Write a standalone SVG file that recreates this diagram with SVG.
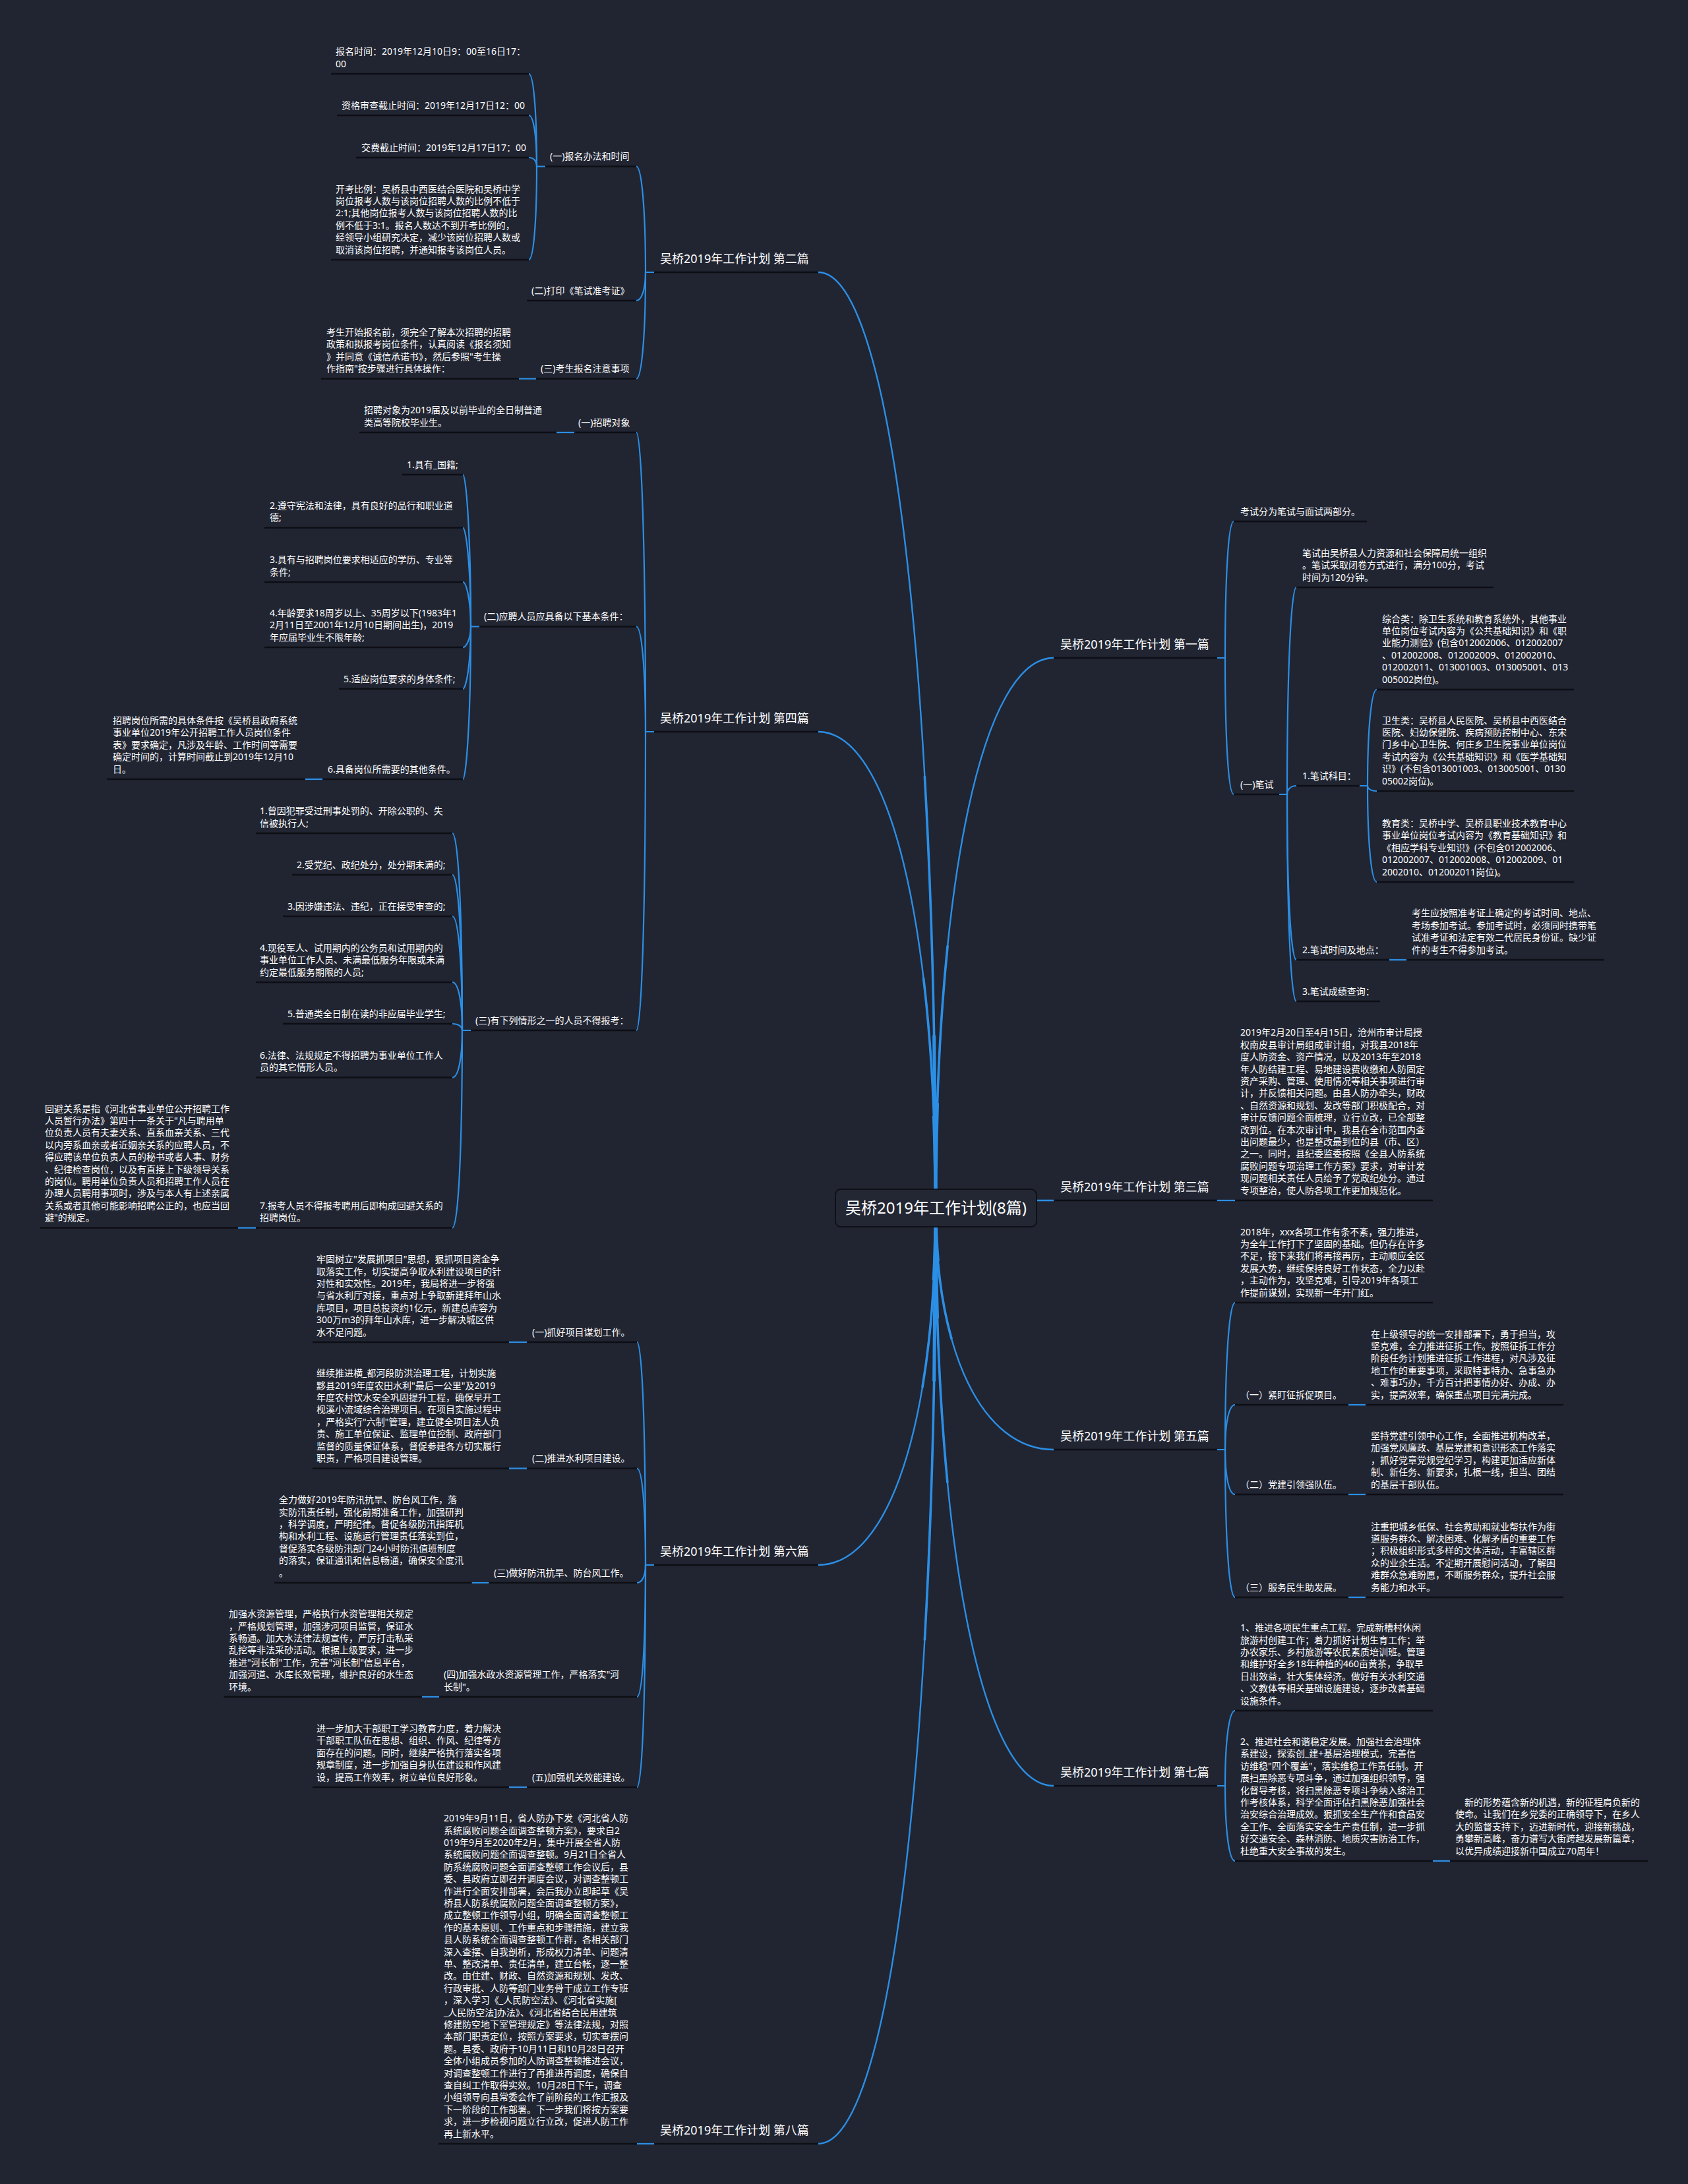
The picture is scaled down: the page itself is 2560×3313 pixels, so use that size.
<svg xmlns="http://www.w3.org/2000/svg" xmlns:xlink="http://www.w3.org/1999/xlink" width="2560" height="3313" viewBox="0 0 2560 3313">
<style>
.t{font-family:"Noto Sans","Noto Sans CJK SC",sans-serif;font-size:14px;fill:#ffffff}
.m{font-size:18px}
.r{font-size:24px}
.u{stroke:#0d0f14;stroke-width:2.5;fill:none}
.c{stroke:#2b8fe6;stroke-width:2.2;fill:none}
.k{stroke:#2b8fe6;stroke-width:2.4;fill:none}
.k2{stroke:#2b8fe6;stroke-width:3.6;fill:none;stroke-dasharray:45 1000}
.k3{stroke:#2b8fe6;stroke-width:5;fill:none;stroke-dasharray:18 1000}
</style>
<rect x="0" y="0" width="2560" height="3313" fill="#212532"/>
<g id="connectors">
 <g class="k">
  <path id="tL2" pathLength="100" d="M1419 1833C1419 981 1348 413 1241 413"/>
  <path id="tL4" pathLength="100" d="M1419 1833C1419 1399 1348 1110 1241 1110"/>
  <path id="tL6" pathLength="100" d="M1419 1833C1419 2158 1348 2374 1241 2374"/>
  <path id="tL8" pathLength="100" d="M1419 1833C1419 2684 1348 3252 1241 3252"/>
  <path id="tR1" pathLength="100" d="M1419 1833C1419 1332 1491 998 1598 998"/>
  <path id="tR5" pathLength="100" d="M1419 1833C1419 2053 1491 2199 1598 2199"/>
  <path id="tR7" pathLength="100" d="M1419 1833C1419 2359 1491 2709 1598 2709"/>
  <path d="M1560 1821H1598"/>
 </g>
 <g class="k2">
  <use href="#tL2"/><use href="#tL4"/><use href="#tL6"/><use href="#tL8"/><use href="#tR1"/><use href="#tR5"/><use href="#tR7"/>
 </g>
 <g class="k3">
  <use href="#tL2"/><use href="#tL4"/><use href="#tL6"/><use href="#tL8"/><use href="#tR1"/><use href="#tR5"/><use href="#tR7"/>
 </g>
 <g class="c">
  <path d="M1846 998H1858C1858 874 1863 791 1871 791"/>
  <path d="M1858 998C1858 1122 1863 1205 1871 1205"/>
  <path d="M1940 1205H1952C1952 1017 1958 891 1966 891"/>
  <path d="M1952 1205C1952 1197 1958 1192 1966 1192"/>
  <path d="M1952 1205C1952 1356 1958 1456 1966 1456"/>
  <path d="M1952 1205C1952 1393 1958 1519 1966 1519"/>
  <path d="M2062 1192H2074C2074 1104 2080 1046 2088 1046"/>
  <path d="M2074 1192C2074 1197 2080 1200 2088 1200"/>
  <path d="M2074 1192C2074 1280 2080 1338 2088 1338"/>
  <path d="M2107 1456H2133"/>
  <path d="M1846 1821H1873"/>
  <path d="M1846 2199H1858C1858 2065 1864 1976 1873 1976"/>
  <path d="M1858 2199C1858 2158 1864 2131 1873 2131"/>
  <path d="M1858 2199C1858 2240 1864 2267 1873 2267"/>
  <path d="M1858 2199C1858 2333 1864 2423 1873 2423"/>
  <path d="M2045 2131H2071"/>
  <path d="M2045 2267H2071"/>
  <path d="M2045 2423H2071"/>
  <path d="M1846 2709H1858C1858 2641 1864 2595 1873 2595"/>
  <path d="M1858 2709C1858 2777 1864 2823 1873 2823"/>
  <path d="M2173 2823H2199"/>
  <path d="M992 413H979C979 317 973 252.5 965 252.5"/>
  <path d="M979 413C979 439 973 456 965 456"/>
  <path d="M979 413C979 510 973 574.5 965 574.5"/>
  <path d="M827 252.5H814C814 168 809 112 802 112"/>
  <path d="M814 252.5C814 206 809 175 802 175"/>
  <path d="M814 252.5C814 244 809 239 802 239"/>
  <path d="M814 252.5C814 337 809 394 802 394"/>
  <path d="M813 574.5H787"/>
  <path d="M992 1110H979C979 838 973 656 965 656"/>
  <path d="M979 1110C979 1014 973 950.5 965 950.5"/>
  <path d="M979 1110C979 1382 973 1563 965 1563"/>
  <path d="M871 656H844"/>
  <path d="M727 950.5H714C714 812 707 720 702 720"/>
  <path d="M714 950.5C714 860 707 800.5 702 800.5"/>
  <path d="M714 950.5C714 910 707 883 702 883"/>
  <path d="M714 950.5C714 969 707 982 702 982"/>
  <path d="M714 950.5C714 1007 707 1045 702 1045"/>
  <path d="M714 950.5C714 1089 707 1182 702 1182"/>
  <path d="M489 1182H463"/>
  <path d="M714 1563H701C701 1384 695 1264 686 1264"/>
  <path d="M701 1563C701 1421 695 1327 686 1327"/>
  <path d="M701 1563C701 1459 695 1390 686 1390"/>
  <path d="M701 1563C701 1519 695 1490 686 1490"/>
  <path d="M701 1563C701 1557 695 1553 686 1553"/>
  <path d="M701 1563C701 1606 695 1634.5 686 1634.5"/>
  <path d="M701 1563C701 1743 695 1862.6 686 1862.6"/>
  <path d="M388 1862.6H361"/>
  <path d="M992 2374H979C979 2171 974 2036 966 2036"/>
  <path d="M979 2374C979 2286 974 2227.5 966 2227.5"/>
  <path d="M979 2374C979 2390 974 2401 966 2401"/>
  <path d="M979 2374C979 2494 974 2574 966 2574"/>
  <path d="M979 2374C979 2576 974 2711 966 2711"/>
  <path d="M799 2036H772"/>
  <path d="M799 2227.5H772"/>
  <path d="M741.5 2401H715.5"/>
  <path d="M666 2574H640"/>
  <path d="M799 2711H772"/>
  <path d="M992 3252H966"/>
 </g>
</g>

<g id="n-r1"><path class="u" d="M1598 998H1846"/><text class="t m" x="1608" y="984">吴桥2019年工作计划 第一篇</text></g>
<g id="n-r1a"><path class="u" d="M1871 791H2073"/><text class="t" x="1881" y="780.5">考试分为笔试与面试两部分。</text></g>
<g id="n-r1b"><path class="u" d="M1871 1205H1940"/><text class="t" x="1881" y="1194.5">(一)笔试</text></g>
<g id="n-r1b1"><path class="u" d="M1966 891H2265"/><text class="t" x="1975" y="843.7"><tspan>笔试由吴桥县人力资源和社会保障局统一组织</tspan><tspan x="1975" dy="18.4">。笔试采取闭卷方式进行，满分100分，考试</tspan><tspan x="1975" dy="18.4">时间为120分钟。</tspan></text></g>
<g id="n-r1b2"><path class="u" d="M1966 1192H2062"/><text class="t" x="1975" y="1181.5">1.笔试科目：</text></g>
<g id="n-r1b2a"><path class="u" d="M2088 1046H2387"/><text class="t" x="2096" y="943.5"><tspan>综合类：除卫生系统和教育系统外，其他事业</tspan><tspan x="2096" dy="18.4">单位岗位考试内容为《公共基础知识》和《职</tspan><tspan x="2096" dy="18.4">业能力测验》(包含012002006、012002007</tspan><tspan x="2096" dy="18.4">、012002008、012002009、012002010、</tspan><tspan x="2096" dy="18.4">012002011、013001003、013005001、013</tspan><tspan x="2096" dy="18.4">005002岗位)。</tspan></text></g>
<g id="n-r1b2b"><path class="u" d="M2088 1200H2387"/><text class="t" x="2096" y="1097.5"><tspan>卫生类：吴桥县人民医院、吴桥县中西医结合</tspan><tspan x="2096" dy="18.4">医院、妇幼保健院、疾病预防控制中心、东宋</tspan><tspan x="2096" dy="18.4">门乡中心卫生院、何庄乡卫生院事业单位岗位</tspan><tspan x="2096" dy="18.4">考试内容为《公共基础知识》和《医学基础知</tspan><tspan x="2096" dy="18.4">识》(不包含013001003、013005001、0130</tspan><tspan x="2096" dy="18.4">05002岗位)。</tspan></text></g>
<g id="n-r1b2c"><path class="u" d="M2088 1338H2387"/><text class="t" x="2096" y="1253.9"><tspan>教育类：吴桥中学、吴桥县职业技术教育中心</tspan><tspan x="2096" dy="18.4">事业单位岗位考试内容为《教育基础知识》和</tspan><tspan x="2096" dy="18.4">《相应学科专业知识》(不包含012002006、</tspan><tspan x="2096" dy="18.4">012002007、012002008、012002009、01</tspan><tspan x="2096" dy="18.4">2002010、012002011岗位)。</tspan></text></g>
<g id="n-r1b3"><path class="u" d="M1966 1456H2107"/><text class="t" x="1975" y="1445.5">2.笔试时间及地点：</text></g>
<g id="n-r1b3a"><path class="u" d="M2133 1456H2433"/><text class="t" x="2141" y="1390.3"><tspan>考生应按照准考证上确定的考试时间、地点、</tspan><tspan x="2141" dy="18.4">考场参加考试。参加考试时，必须同时携带笔</tspan><tspan x="2141" dy="18.4">试准考证和法定有效二代居民身份证。缺少证</tspan><tspan x="2141" dy="18.4">件的考生不得参加考试。</tspan></text></g>
<g id="n-r1b4"><path class="u" d="M1966 1519H2093"/><text class="t" x="1975" y="1508.5">3.笔试成绩查询：</text></g>

<g id="n-r3"><path class="u" d="M1598 1821H1846"/><text class="t m" x="1608" y="1807">吴桥2019年工作计划 第三篇</text></g>
<g id="n-r3a"><path class="u" d="M1873 1821H2173"/><text class="t" x="1881" y="1571.3"><tspan>2019年2月20日至4月15日，沧州市审计局授</tspan><tspan x="1881" dy="18.4">权南皮县审计局组成审计组，对我县2018年</tspan><tspan x="1881" dy="18.4">度人防资金、资产情况，以及2013年至2018</tspan><tspan x="1881" dy="18.4">年人防结建工程、易地建设费收缴和人防固定</tspan><tspan x="1881" dy="18.4">资产采购、管理、使用情况等相关事项进行审</tspan><tspan x="1881" dy="18.4">计，并反馈相关问题。由县人防办牵头，财政</tspan><tspan x="1881" dy="18.4">、自然资源和规划、发改等部门积极配合，对</tspan><tspan x="1881" dy="18.4">审计反馈问题全面梳理，立行立改，已全部整</tspan><tspan x="1881" dy="18.4">改到位。在本次审计中，我县在全市范围内查</tspan><tspan x="1881" dy="18.4">出问题最少，也是整改最到位的县（市、区）</tspan><tspan x="1881" dy="18.4">之一。同时，县纪委监委按照《全县人防系统</tspan><tspan x="1881" dy="18.4">腐败问题专项治理工作方案》要求，对审计发</tspan><tspan x="1881" dy="18.4">现问题相关责任人员给予了党政纪处分。通过</tspan><tspan x="1881" dy="18.4">专项整治，使人防各项工作更加规范化。</tspan></text></g>

<g id="n-r5"><path class="u" d="M1598 2199H1846"/><text class="t m" x="1608" y="2185">吴桥2019年工作计划 第五篇</text></g>
<g id="n-r5a"><path class="u" d="M1873 1976H2173"/><text class="t" x="1881" y="1873.5"><tspan>2018年，xxx各项工作有条不紊，强力推进，</tspan><tspan x="1881" dy="18.4">为全年工作打下了坚固的基础。但仍存在许多</tspan><tspan x="1881" dy="18.4">不足，接下来我们将再接再厉，主动顺应全区</tspan><tspan x="1881" dy="18.4">发展大势，继续保持良好工作状态，全力以赴</tspan><tspan x="1881" dy="18.4">，主动作为，攻坚克难，引导2019年各项工</tspan><tspan x="1881" dy="18.4">作提前谋划，实现新一年开门红。</tspan></text></g>
<g id="n-r5b"><path class="u" d="M1873 2131H2045"/><text class="t" x="1881" y="2120.5">（一）紧盯征拆促项目。</text></g>
<g id="n-r5b1"><path class="u" d="M2071 2131H2371"/><text class="t" x="2079" y="2028.5"><tspan>在上级领导的统一安排部署下，勇于担当，攻</tspan><tspan x="2079" dy="18.4">坚克难，全力推进征拆工作。按照征拆工作分</tspan><tspan x="2079" dy="18.4">阶段任务计划推进征拆工作进程，对凡涉及征</tspan><tspan x="2079" dy="18.4">地工作的重要事项，采取特事特办、急事急办</tspan><tspan x="2079" dy="18.4">、难事巧办，千方百计把事情办好、办成、办</tspan><tspan x="2079" dy="18.4">实，提高效率，确保重点项目完满完成。</tspan></text></g>
<g id="n-r5c"><path class="u" d="M1873 2267H2045"/><text class="t" x="1881" y="2256.5">（二）党建引领强队伍。</text></g>
<g id="n-r5c1"><path class="u" d="M2071 2267H2371"/><text class="t" x="2079" y="2182.9"><tspan>坚持党建引领中心工作，全面推进机构改革，</tspan><tspan x="2079" dy="18.4">加强党风廉政、基层党建和意识形态工作落实</tspan><tspan x="2079" dy="18.4">，抓好党章党规党纪学习，构建更加适应新体</tspan><tspan x="2079" dy="18.4">制、新任务、新要求，扎根一线，担当、团结</tspan><tspan x="2079" dy="18.4">的基层干部队伍。</tspan></text></g>
<g id="n-r5d"><path class="u" d="M1873 2423H2045"/><text class="t" x="1881" y="2412.5">（三）服务民生助发展。</text></g>
<g id="n-r5d1"><path class="u" d="M2071 2423H2371"/><text class="t" x="2079" y="2320.5"><tspan>注重把城乡低保、社会救助和就业帮扶作为街</tspan><tspan x="2079" dy="18.4">道服务群众、解决困难、化解矛盾的重要工作</tspan><tspan x="2079" dy="18.4">；积极组织形式多样的文体活动，丰富辖区群</tspan><tspan x="2079" dy="18.4">众的业余生活。不定期开展慰问活动，了解困</tspan><tspan x="2079" dy="18.4">难群众急难盼愿，不断服务群众，提升社会服</tspan><tspan x="2079" dy="18.4">务能力和水平。</tspan></text></g>

<g id="n-r7"><path class="u" d="M1598 2709H1846"/><text class="t m" x="1608" y="2695">吴桥2019年工作计划 第七篇</text></g>
<g id="n-r7a"><path class="u" d="M1873 2595H2173"/><text class="t" x="1881" y="2474.1"><tspan>1、推进各项民生重点工程。完成新槽村休闲</tspan><tspan x="1881" dy="18.4">旅游村创建工作；着力抓好计划生育工作；举</tspan><tspan x="1881" dy="18.4">办农家乐、乡村旅游等农民素质培训班。管理</tspan><tspan x="1881" dy="18.4">和维护好全乡18年种植的460亩黄茶，争取早</tspan><tspan x="1881" dy="18.4">日出效益，壮大集体经济。做好有关水利交通</tspan><tspan x="1881" dy="18.4">、文教体等相关基础设施建设，逐步改善基础</tspan><tspan x="1881" dy="18.4">设施条件。</tspan></text></g>
<g id="n-r7b"><path class="u" d="M1873 2823H2173"/><text class="t" x="1881" y="2646.9"><tspan>2、推进社会和谐稳定发展。加强社会治理体</tspan><tspan x="1881" dy="18.4">系建设，探索创_建+基层治理模式，完善信</tspan><tspan x="1881" dy="18.4">访维稳"四个覆盖"，落实维稳工作责任制。开</tspan><tspan x="1881" dy="18.4">展扫黑除恶专项斗争，通过加强组织领导，强</tspan><tspan x="1881" dy="18.4">化督导考核，将扫黑除恶专项斗争纳入综治工</tspan><tspan x="1881" dy="18.4">作考核体系，科学全面评估扫黑除恶加强社会</tspan><tspan x="1881" dy="18.4">治安综合治理成效。狠抓安全生产作和食品安</tspan><tspan x="1881" dy="18.4">全工作、全面落实安全生产责任制，进一步抓</tspan><tspan x="1881" dy="18.4">好交通安全、森林消防、地质灾害防治工作，</tspan><tspan x="1881" dy="18.4">杜绝重大安全事故的发生。</tspan></text></g>
<g id="n-r7b1"><path class="u" d="M2199 2823H2499"/><text class="t" x="2221" y="2738.9"><tspan>新的形势蕴含新的机遇，新的征程肩负新的</tspan><tspan x="2207" dy="18.4">使命。让我们在乡党委的正确领导下，在乡人</tspan><tspan x="2207" dy="18.4">大的监督支持下，迈进新时代，迎接新挑战，</tspan><tspan x="2207" dy="18.4">勇攀新高峰，奋力谱写大街跨越发展新篇章，</tspan><tspan x="2207" dy="18.4">以优异成绩迎接新中国成立70周年！</tspan></text></g>

<g id="n-l2"><path class="u" d="M992 413H1241"/><text class="t m" x="1001" y="399">吴桥2019年工作计划 第二篇</text></g>
<g id="n-l2a"><path class="u" d="M827 252.5H965"/><text class="t" x="834" y="242">(一)报名办法和时间</text></g>
<g id="n-l2a1"><path class="u" d="M502 112H802"/><text class="t" x="509" y="83.1"><tspan>报名时间：2019年12月10日9：00至16日17：</tspan><tspan x="509" dy="18.4">00</tspan></text></g>
<g id="n-l2a2"><path class="u" d="M511 175H802"/><text class="t" x="518" y="164.5">资格审查截止时间：2019年12月17日12：00</text></g>
<g id="n-l2a3"><path class="u" d="M540 239H802"/><text class="t" x="548" y="228.5">交费截止时间：2019年12月17日17：00</text></g>
<g id="n-l2a4"><path class="u" d="M502 394H802"/><text class="t" x="509" y="291.5"><tspan>开考比例：吴桥县中西医结合医院和吴桥中学</tspan><tspan x="509" dy="18.4">岗位报考人数与该岗位招聘人数的比例不低于</tspan><tspan x="509" dy="18.4">2:1;其他岗位报考人数与该岗位招聘人数的比</tspan><tspan x="509" dy="18.4">例不低于3:1。报名人数达不到开考比例的，</tspan><tspan x="509" dy="18.4">经领导小组研究决定，减少该岗位招聘人数或</tspan><tspan x="509" dy="18.4">取消该岗位招聘，并通知报考该岗位人员。</tspan></text></g>
<g id="n-l2b"><path class="u" d="M799 456H965"/><text class="t" x="806" y="445.5">(二)打印《笔试准考证》</text></g>
<g id="n-l2c"><path class="u" d="M813 574.5H965"/><text class="t" x="820" y="564">(三)考生报名注意事项</text></g>
<g id="n-l2c1"><path class="u" d="M487 574.5H787"/><text class="t" x="495" y="508.8"><tspan>考生开始报名前，须完全了解本次招聘的招聘</tspan><tspan x="495" dy="18.4">政策和拟报考岗位条件，认真阅读《报名须知</tspan><tspan x="495" dy="18.4">》并同意《诚信承诺书》，然后参照"考生操</tspan><tspan x="495" dy="18.4">作指南"按步骤进行具体操作：</tspan></text></g>

<g id="n-l4"><path class="u" d="M992 1110H1241"/><text class="t m" x="1001" y="1096">吴桥2019年工作计划 第四篇</text></g>
<g id="n-l4a"><path class="u" d="M871 656H965"/><text class="t" x="877" y="645.5">(一)招聘对象</text></g>
<g id="n-l4a1"><path class="u" d="M545 656H844"/><text class="t" x="552" y="627.1"><tspan>招聘对象为2019届及以前毕业的全日制普通</tspan><tspan x="552" dy="18.4">类高等院校毕业生。</tspan></text></g>
<g id="n-l4b"><path class="u" d="M727 950.5H965"/><text class="t" x="734" y="940">(二)应聘人员应具备以下基本条件：</text></g>
<g id="n-l4b1"><path class="u" d="M610 720H702"/><text class="t" x="617" y="709.5">1.具有_国籍;</text></g>
<g id="n-l4b2"><path class="u" d="M401 800.5H702"/><text class="t" x="409" y="771.6"><tspan>2.遵守宪法和法律，具有良好的品行和职业道</tspan><tspan x="409" dy="18.4">德;</tspan></text></g>
<g id="n-l4b3"><path class="u" d="M401 883H702"/><text class="t" x="409" y="854.1"><tspan>3.具有与招聘岗位要求相适应的学历、专业等</tspan><tspan x="409" dy="18.4">条件;</tspan></text></g>
<g id="n-l4b4"><path class="u" d="M401 982H702"/><text class="t" x="409" y="934.7"><tspan>4.年龄要求18周岁以上、35周岁以下(1983年1</tspan><tspan x="409" dy="18.4">2月11日至2001年12月10日期间出生)，2019</tspan><tspan x="409" dy="18.4">年应届毕业生不限年龄;</tspan></text></g>
<g id="n-l4b5"><path class="u" d="M514 1045H702"/><text class="t" x="521" y="1034.5">5.适应岗位要求的身体条件;</text></g>
<g id="n-l4b6"><path class="u" d="M489 1182H702"/><text class="t" x="497" y="1171.5">6.具备岗位所需要的其他条件。</text></g>
<g id="n-l4b6a"><path class="u" d="M162 1182H463"/><text class="t" x="171" y="1097.9"><tspan>招聘岗位所需的具体条件按《吴桥县政府系统</tspan><tspan x="171" dy="18.4">事业单位2019年公开招聘工作人员岗位条件</tspan><tspan x="171" dy="18.4">表》要求确定，凡涉及年龄、工作时间等需要</tspan><tspan x="171" dy="18.4">确定时间的，计算时间截止到2019年12月10</tspan><tspan x="171" dy="18.4">日。</tspan></text></g>
<g id="n-l4c"><path class="u" d="M714 1563H965"/><text class="t" x="721" y="1552.5">(三)有下列情形之一的人员不得报考：</text></g>
<g id="n-l4c1"><path class="u" d="M388 1264H686"/><text class="t" x="394" y="1235.1"><tspan>1.曾因犯罪受过刑事处罚的、开除公职的、失</tspan><tspan x="394" dy="18.4">信被执行人;</tspan></text></g>
<g id="n-l4c2"><path class="u" d="M443 1327H686"/><text class="t" x="450" y="1316.5">2.受党纪、政纪处分，处分期未满的;</text></g>
<g id="n-l4c3"><path class="u" d="M429 1390H686"/><text class="t" x="436" y="1379.5">3.因涉嫌违法、违纪，正在接受审查的;</text></g>
<g id="n-l4c4"><path class="u" d="M388 1490H686"/><text class="t" x="394" y="1442.7"><tspan>4.现役军人、试用期内的公务员和试用期内的</tspan><tspan x="394" dy="18.4">事业单位工作人员、未满最低服务年限或未满</tspan><tspan x="394" dy="18.4">约定最低服务期限的人员;</tspan></text></g>
<g id="n-l4c5"><path class="u" d="M429 1553H686"/><text class="t" x="436" y="1542.5">5.普通类全日制在读的非应届毕业学生;</text></g>
<g id="n-l4c6"><path class="u" d="M388 1634.5H686"/><text class="t" x="394" y="1605.6"><tspan>6.法律、法规规定不得招聘为事业单位工作人</tspan><tspan x="394" dy="18.4">员的其它情形人员。</tspan></text></g>
<g id="n-l4c7"><path class="u" d="M388 1862.6H686"/><text class="t" x="394" y="1833.7"><tspan>7.报考人员不得报考聘用后即构成回避关系的</tspan><tspan x="394" dy="18.4">招聘岗位。</tspan></text></g>
<g id="n-l4c7a"><path class="u" d="M61 1862.6H361"/><text class="t" x="68" y="1686.5"><tspan>回避关系是指《河北省事业单位公开招聘工作</tspan><tspan x="68" dy="18.4">人员暂行办法》第四十一条关于"凡与聘用单</tspan><tspan x="68" dy="18.4">位负责人员有夫妻关系、直系血亲关系、三代</tspan><tspan x="68" dy="18.4">以内旁系血亲或者近姻亲关系的应聘人员，不</tspan><tspan x="68" dy="18.4">得应聘该单位负责人员的秘书或者人事、财务</tspan><tspan x="68" dy="18.4">、纪律检查岗位，以及有直接上下级领导关系</tspan><tspan x="68" dy="18.4">的岗位。聘用单位负责人员和招聘工作人员在</tspan><tspan x="68" dy="18.4">办理人员聘用事项时，涉及与本人有上述亲属</tspan><tspan x="68" dy="18.4">关系或者其他可能影响招聘公正的，也应当回</tspan><tspan x="68" dy="18.4">避"的规定。</tspan></text></g>

<g id="n-l6"><path class="u" d="M992 2374H1241"/><text class="t m" x="1001" y="2360">吴桥2019年工作计划 第六篇</text></g>
<g id="n-l6a"><path class="u" d="M799 2036H966"/><text class="t" x="807" y="2025.5">(一)抓好项目谋划工作。</text></g>
<g id="n-l6a1"><path class="u" d="M474 2036H772"/><text class="t" x="480" y="1915.1"><tspan>牢固树立"发展抓项目"思想，狠抓项目资金争</tspan><tspan x="480" dy="18.4">取落实工作，切实提高争取水利建设项目的针</tspan><tspan x="480" dy="18.4">对性和实效性。2019年，我局将进一步将强</tspan><tspan x="480" dy="18.4">与省水利厅对接，重点对上争取新建拜年山水</tspan><tspan x="480" dy="18.4">库项目，项目总投资约1亿元，新建总库容为</tspan><tspan x="480" dy="18.4">300万m3的拜年山水库，进一步解决城区供</tspan><tspan x="480" dy="18.4">水不足问题。</tspan></text></g>
<g id="n-l6b"><path class="u" d="M799 2227.5H966"/><text class="t" x="807" y="2217">(二)推进水利项目建设。</text></g>
<g id="n-l6b1"><path class="u" d="M474 2227.5H772"/><text class="t" x="480" y="2088.2"><tspan>继续推进横_都河段防洪治理工程，计划实施</tspan><tspan x="480" dy="18.4">黟县2019年度农田水利"最后一公里"及2019</tspan><tspan x="480" dy="18.4">年度农村饮水安全巩固提升工程，确保早开工</tspan><tspan x="480" dy="18.4">枧溪小流域综合治理项目。在项目实施过程中</tspan><tspan x="480" dy="18.4">，严格实行"六制"管理，建立健全项目法人负</tspan><tspan x="480" dy="18.4">责、施工单位保证、监理单位控制、政府部门</tspan><tspan x="480" dy="18.4">监督的质量保证体系，督促参建各方切实履行</tspan><tspan x="480" dy="18.4">职责，严格项目建设管理。</tspan></text></g>
<g id="n-l6c"><path class="u" d="M741.5 2401H966"/><text class="t" x="749" y="2390.5">(三)做好防汛抗旱、防台风工作。</text></g>
<g id="n-l6c1"><path class="u" d="M416 2401H715.5"/><text class="t" x="423" y="2280.1"><tspan>全力做好2019年防汛抗旱、防台风工作，落</tspan><tspan x="423" dy="18.4">实防汛责任制，强化前期准备工作，加强研判</tspan><tspan x="423" dy="18.4">，科学调度，严明纪律。督促各级防汛指挥机</tspan><tspan x="423" dy="18.4">构和水利工程、设施运行管理责任落实到位，</tspan><tspan x="423" dy="18.4">督促落实各级防汛部门24小时防汛值班制度</tspan><tspan x="423" dy="18.4">的落实，保证通讯和信息畅通，确保安全度汛</tspan><tspan x="423" dy="18.4">。</tspan></text></g>
<g id="n-l6d"><path class="u" d="M666 2574H966"/><text class="t" x="673" y="2545.1"><tspan>(四)加强水政水资源管理工作，严格落实"河</tspan><tspan x="673" dy="18.4">长制"。</tspan></text></g>
<g id="n-l6d1"><path class="u" d="M339.5 2574H640"/><text class="t" x="347" y="2453.1"><tspan>加强水资源管理，严格执行水资管理相关规定</tspan><tspan x="347" dy="18.4">，严格规划管理，加强涉河项目监管，保证水</tspan><tspan x="347" dy="18.4">系畅通。加大水法律法规宣传，严厉打击私采</tspan><tspan x="347" dy="18.4">乱挖等非法采砂活动。根据上级要求，进一步</tspan><tspan x="347" dy="18.4">推进"河长制"工作，完善"河长制"信息平台，</tspan><tspan x="347" dy="18.4">加强河道、水库长效管理，维护良好的水生态</tspan><tspan x="347" dy="18.4">环境。</tspan></text></g>
<g id="n-l6e"><path class="u" d="M799 2711H966"/><text class="t" x="807" y="2700.5">(五)加强机关效能建设。</text></g>
<g id="n-l6e1"><path class="u" d="M474 2711H772"/><text class="t" x="480" y="2626.9"><tspan>进一步加大干部职工学习教育力度，着力解决</tspan><tspan x="480" dy="18.4">干部职工队伍在思想、组织、作风、纪律等方</tspan><tspan x="480" dy="18.4">面存在的问题。同时，继续严格执行落实各项</tspan><tspan x="480" dy="18.4">规章制度，进一步加强自身队伍建设和作风建</tspan><tspan x="480" dy="18.4">设，提高工作效率，树立单位良好形象。</tspan></text></g>

<g id="n-l8"><path class="u" d="M992 3252H1241"/><text class="t m" x="1001" y="3238">吴桥2019年工作计划 第八篇</text></g>
<g id="n-l8a"><path class="u" d="M665 3252H966"/><text class="t" x="673" y="2763.1"><tspan>2019年9月11日，省人防办下发《河北省人防</tspan><tspan x="673" dy="18.4">系统腐败问题全面调查整顿方案》，要求自2</tspan><tspan x="673" dy="18.4">019年9月至2020年2月，集中开展全省人防</tspan><tspan x="673" dy="18.4">系统腐败问题全面调查整顿。9月21日全省人</tspan><tspan x="673" dy="18.4">防系统腐败问题全面调查整顿工作会议后，县</tspan><tspan x="673" dy="18.4">委、县政府立即召开调度会议，对调查整顿工</tspan><tspan x="673" dy="18.4">作进行全面安排部署，会后我办立即起草《吴</tspan><tspan x="673" dy="18.4">桥县人防系统腐败问题全面调查整顿方案》，</tspan><tspan x="673" dy="18.4">成立整顿工作领导小组，明确全面调查整顿工</tspan><tspan x="673" dy="18.4">作的基本原则、工作重点和步骤措施，建立我</tspan><tspan x="673" dy="18.4">县人防系统全面调查整顿工作群，各相关部门</tspan><tspan x="673" dy="18.4">深入查摆、自我剖析，形成权力清单、问题清</tspan><tspan x="673" dy="18.4">单、整改清单、责任清单，建立台帐，逐一整</tspan><tspan x="673" dy="18.4">改。由住建、财政、自然资源和规划、发改、</tspan><tspan x="673" dy="18.4">行政审批、人防等部门业务骨干成立工作专班</tspan><tspan x="673" dy="18.4">，深入学习《_人民防空法》、《河北省实施[</tspan><tspan x="673" dy="18.4">_人民防空法]办法》、《河北省结合民用建筑</tspan><tspan x="673" dy="18.4">修建防空地下室管理规定》等法律法规，对照</tspan><tspan x="673" dy="18.4">本部门职责定位，按照方案要求，切实查摆问</tspan><tspan x="673" dy="18.4">题。县委、政府于10月11日和10月28日召开</tspan><tspan x="673" dy="18.4">全体小组成员参加的人防调查整顿推进会议，</tspan><tspan x="673" dy="18.4">对调查整顿工作进行了再推进再调度，确保自</tspan><tspan x="673" dy="18.4">查自纠工作取得实效。10月28日下午，调查</tspan><tspan x="673" dy="18.4">小组领导向县常委会作了前阶段的工作汇报及</tspan><tspan x="673" dy="18.4">下一阶段的工作部署。下一步我们将按方案要</tspan><tspan x="673" dy="18.4">求，进一步检视问题立行立改，促进人防工作</tspan><tspan x="673" dy="18.4">再上新水平。</tspan></text></g>

<g id="n-root"><rect x="1267" y="1804" width="305" height="57" rx="8" fill="#232734" stroke="#0f1116" stroke-width="2"/><text class="t r" x="1419.5" y="1841" text-anchor="middle">吴桥2019年工作计划(8篇)</text></g>
</svg>
